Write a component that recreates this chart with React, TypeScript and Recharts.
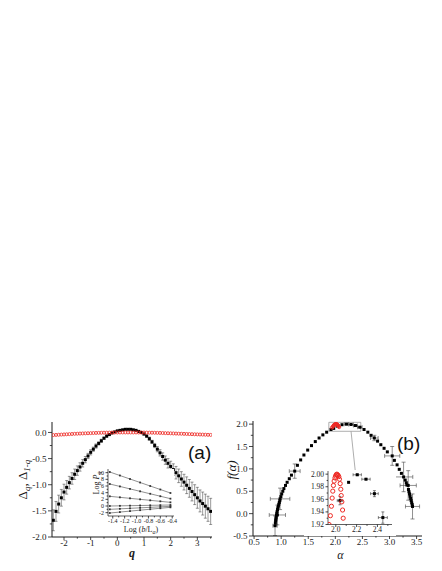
import React from "react";
import { ComposedChart, Scatter, XAxis, YAxis, ErrorBar, ReferenceArea, ReferenceLine } from "recharts";

const SERIF = '"Liberation Serif", "Times New Roman", serif';
const SANS = '"Liberation Sans", Arial, sans-serif';
const INK = "#1a1a1a";
const RED = "#ee2a24";

// ---- panel (a): Δq (black, with errors) and Δ1-q (red) vs q
const qValues = [-2.4, -2.3, -2.2, -2.1, -2.0, -1.9, -1.8, -1.7, -1.6, -1.5, -1.4, -1.3, -1.2, -1.1, -1.0, -0.9, -0.8, -0.7, -0.6, -0.5, -0.4, -0.3, -0.2, -0.1, 0.0, 0.1, 0.2, 0.3, 0.4, 0.5, 0.6, 0.7, 0.8, 0.9, 1.0, 1.1, 1.2, 1.3, 1.4, 1.5, 1.6, 1.7, 1.8, 1.9, 2.0, 2.1, 2.2, 2.3, 2.4, 2.5, 2.6, 2.7, 2.8, 2.9, 3.0, 3.1, 3.2, 3.3, 3.4, 3.5];
const deltaQ = [-1.68, -1.51, -1.37, -1.25, -1.14, -1.05, -0.96, -0.88, -0.8, -0.73, -0.66, -0.59, -0.52, -0.45, -0.38, -0.32, -0.26, -0.21, -0.16, -0.11, -0.07, -0.04, -0.01, 0.01, 0.03, 0.04, 0.05, 0.06, 0.06, 0.06, 0.05, 0.04, 0.02, 0.0, -0.03, -0.07, -0.12, -0.18, -0.25, -0.32, -0.39, -0.46, -0.53, -0.59, -0.65, -0.71, -0.77, -0.83, -0.89, -0.95, -1.01, -1.07, -1.13, -1.19, -1.25, -1.31, -1.36, -1.41, -1.46, -1.51];
const deltaQErr = [0.2, 0.19, 0.17, 0.16, 0.15, 0.13, 0.12, 0.11, 0.1, 0.09, 0.08, 0.07, 0.06, 0.05, 0.05, 0.04, 0.04, 0.03, 0.03, 0.02, 0.02, 0.02, 0.01, 0.01, 0.01, 0.01, 0.01, 0.01, 0.01, 0.01, 0.01, 0.01, 0.01, 0.01, 0.02, 0.02, 0.03, 0.03, 0.04, 0.05, 0.06, 0.07, 0.08, 0.09, 0.1, 0.11, 0.12, 0.13, 0.14, 0.15, 0.16, 0.17, 0.18, 0.19, 0.2, 0.21, 0.22, 0.23, 0.24, 0.25];
const deltaOneMinusQ = [-0.05, -0.047, -0.044, -0.041, -0.038, -0.035, -0.032, -0.029, -0.026, -0.024, -0.021, -0.019, -0.017, -0.015, -0.013, -0.011, -0.009, -0.008, -0.006, -0.005, -0.004, -0.003, -0.002, -0.001, -0.001, 0, 0, 0, 0, 0, 0, 0, -0.001, -0.001, -0.002, -0.003, -0.004, -0.005, -0.006, -0.008, -0.009, -0.011, -0.013, -0.015, -0.017, -0.019, -0.021, -0.023, -0.025, -0.027, -0.029, -0.031, -0.033, -0.035, -0.037, -0.039, -0.041, -0.043, -0.045, -0.047];

const qTicks = [-2, -1.5, -1, -0.5, 0, 0.5, 1, 1.5, 2, 2.5, 3, 3.5];
const qMajor = [-2, -1, 0, 1, 2, 3];
const deltaTicks = [-2, -1.75, -1.5, -1.25, -1, -0.75, -0.5, -0.25, 0];
const deltaMajor = [-2, -1.5, -1, -0.5, 0];

// inset (a): log P_q vs log(b/L_q), one fitted line per q
const logB = [-1.45, -1.28, -1.11, -0.94, -0.77, -0.6, -0.43];
const logP1 = [10.2, 9.15, 8.1, 7.05, 6.0, 4.95, 3.9];
const logP2 = [6.6, 5.87, 5.13, 4.4, 3.67, 2.93, 2.2];
const logP3 = [2.9, 2.6, 2.3, 2.0, 1.7, 1.4, 1.1];
const logP4 = [0.0, 0.05, 0.1, 0.15, 0.2, 0.25, 0.3];
const logP5 = [-1.0, -0.85, -0.7, -0.55, -0.4, -0.25, -0.1];
const logP6 = [-2.1, -1.82, -1.53, -1.25, -0.97, -0.68, -0.4];
const logBTicks = [-1.4, -1.3, -1.2, -1.1, -1.0, -0.9, -0.8, -0.7, -0.6, -0.5, -0.4];
const logBMajor = [-1.4, -1.2, -1.0, -0.8, -0.6, -0.4];
const logPTicks = [-2, -1, 0, 1, 2, 3, 4, 5, 6, 7, 8, 9, 10];
const logPMajor = [-2, 0, 2, 4, 6, 8, 10];

// ---- panel (b): f(alpha)
const alphaPts = [0.893, 0.898, 0.903, 0.908, 0.914, 0.92, 0.926, 0.933, 0.94, 0.948, 0.957, 0.966, 0.975, 0.995, 1.01, 1.03, 1.05, 1.08, 1.11, 1.15, 1.19, 1.3, 1.36, 1.42, 1.49, 1.56, 1.63, 1.7, 1.77, 1.84, 1.92, 1.97, 2.123, 2.53, 2.6, 2.66, 2.78, 2.84, 2.9, 2.96, 3.09, 3.14, 3.18, 3.22, 3.29, 3.31, 3.32, 3.35, 3.36, 3.37, 3.38, 3.39, 3.4, 3.41, 3.42];
const fPts = [-0.21, -0.16, -0.12, -0.08, -0.03, 0.01, 0.05, 0.09, 0.13, 0.17, 0.21, 0.25, 0.29, 0.38, 0.44, 0.5, 0.56, 0.63, 0.7, 0.78, 0.86, 1.08, 1.2, 1.31, 1.42, 1.52, 1.61, 1.69, 1.76, 1.82, 1.88, 1.905, 1.987, 1.88, 1.82, 1.75, 1.62, 1.54, 1.46, 1.38, 1.19, 1.09, 0.99, 0.9, 0.75, 0.69, 0.64, 0.54, 0.49, 0.44, 0.39, 0.34, 0.29, 0.24, 0.2];
const alphaErrPts = [0.887, 0.93, 0.98, 1.25, 2.04, 2.206, 2.29, 2.371, 2.452, 2.72, 3.05, 3.26, 3.345, 3.425];
const fErrPts = [-0.27, -0.03, 0.33, 0.95, 1.958, 1.999, 1.992, 1.969, 1.931, 1.69, 1.29, 0.82, 0.63, 0.16];
const alphaErr = [0.04, 0.15, 0.18, 0.1, 0.026, 0.04, 0.04, 0.037, 0.043, 0.07, 0.14, 0.17, 0.15, 0.13];
const fErr = [0.22, 0.22, 0.24, 0.16, 0.0067, 0.001, 0.001, 0.0048, 0.009, 0.06, 0.21, 0.33, 0.33, 0.28];
const alphaRed = [1.935, 1.948, 1.958, 1.965, 1.971, 1.977, 1.984, 1.992, 1.998, 2.004, 2.01, 2.016, 2.022, 2.029, 2.035, 2.042, 2.048, 2.052, 2.058, 2.065, 2.071];
const fRed = [1.92, 1.934, 1.949, 1.962, 1.973, 1.982, 1.989, 1.994, 1.997, 1.999, 2.0, 1.999, 1.998, 1.996, 1.992, 1.985, 1.976, 1.966, 1.956, 1.943, 1.93];

const alphaTicks = [0.5, 0.75, 1, 1.25, 1.5, 1.75, 2, 2.25, 2.5, 2.75, 3, 3.25, 3.5];
const alphaMajor = [0.5, 1, 1.5, 2, 2.5, 3, 3.5];
const fTicks = [-0.5, -0.25, 0, 0.25, 0.5, 0.75, 1, 1.25, 1.5, 1.75, 2];
const fMajor = [-0.5, 0, 0.5, 1, 1.5, 2];
const zoomBox = [1.88, 2.47, 1.84, 2.04];
const zoomLink = [2.29, 1.84, 2.37, 0.93];
const insetAlphaTicks = [2.0, 2.1, 2.2, 2.3, 2.4, 2.5];
const insetAlphaMajor = [2.0, 2.2, 2.4];
const insetFTicks = [1.92, 1.93, 1.94, 1.95, 1.96, 1.97, 1.98, 1.99, 2.0];
const insetFMajor = [1.92, 1.94, 1.96, 1.98, 2.0];

const deltaData = qValues.map((x, i) => ({ x, y: deltaQ[i], err: deltaQErr[i] }));
const delta1Data = qValues.map((x, i) => ({ x, y: deltaOneMinusQ[i] }));
const insetLines = [logP1, logP2, logP3, logP4, logP5, logP6].map((ys) => logB.map((x, i) => ({ x, y: ys[i] })));
const fData = alphaPts.map((x, i) => ({ x, y: fPts[i] }));
const fErrData = alphaErrPts.map((x, i) => ({ x, y: fErrPts[i], ex: alphaErr[i], ey: fErr[i] }));
const redData = alphaRed.map((x, i) => ({ x, y: fRed[i] }));

type Side = "bottom" | "top" | "left" | "right";

// custom ticks: major/minor tick marks, labels only on majors of bottom/left axes
const tickMaker = (side: Side, major: number[], fmt: ((v: number) => string) | null, size: number, len: number) =>
  (props: any) => {
    const { x, y, payload } = props;
    const v = Number(payload.value);
    const isMajor = major.some((m) => Math.abs(m - v) < 1e-6);
    const l = isMajor ? len : len * 0.55;
    let x2 = x;
    let y2 = y;
    if (side === "bottom" || side === "top") y2 = y + l;
    else x2 = x - l;
    let label = null;
    if (fmt && isMajor) {
      label =
        side === "bottom" ? (
          <text x={x} y={y + len + size * 0.72} textAnchor="middle" fontSize={size} fontFamily={SERIF} fill={INK}>
            {fmt(v)}
          </text>
        ) : (
          <text x={x - len - 1.5} y={y + size * 0.34} textAnchor="end" fontSize={size} fontFamily={SERIF} fill={INK}>
            {fmt(v)}
          </text>
        );
    }
    return (
      <g>
        <line x1={x} y1={y} x2={x2} y2={y2} stroke={INK} strokeWidth={0.8} />
        {label}
      </g>
    );
  };

const axisLine = { stroke: INK, strokeWidth: 1 };

const Square = (p: any) => <rect x={p.cx - 1.5} y={p.cy - 1.5} width={3} height={3} fill="#000" />;
const SmallSquare = (p: any) => <rect x={p.cx - 0.9} y={p.cy - 0.9} width={1.8} height={1.8} fill="#333" />;
const RedCircle = (p: any) => <circle cx={p.cx} cy={p.cy} r={1.5} fill="none" stroke={RED} strokeWidth={0.8} />;
const RedCircleBig = (p: any) => <circle cx={p.cx} cy={p.cy} r={2.1} fill="none" stroke={RED} strokeWidth={1} />;

const fmt1 = (v: number) => v.toFixed(1);
const fmt0 = (v: number) => String(Math.round(v));
const fmt2 = (v: number) => v.toFixed(2);

function frameAxes(xDom: number[], yDom: number[], xT: number[], xM: number[], yT: number[], yM: number[], len: number) {
  return [
    <XAxis key="t" xAxisId="t" orientation="top" type="number" dataKey="x" domain={xDom} allowDataOverflow ticks={xT} interval={0} height={0} mirror tickSize={0} tickMargin={0} tickLine={false} axisLine={axisLine} tick={tickMaker("top", xM, null, 8, len)} />,
    <YAxis key="r" yAxisId="r" orientation="right" type="number" dataKey="y" domain={yDom} allowDataOverflow ticks={yT} interval={0} width={0} mirror tickSize={0} tickMargin={0} tickLine={false} axisLine={axisLine} tick={tickMaker("right", yM, null, 8, len)} />,
  ];
}

export default function App() {
  return (
    <div style={{ position: "absolute", left: 0, top: 0, width: 442, height: 571, background: "#fff" }}>
      {/* panel (a) */}
      <div style={{ position: "absolute", left: 0, top: 370 }}>
        <ComposedChart width={221} height={190} margin={{ top: 52, right: 9, bottom: 0, left: 0 }}>
          <XAxis xAxisId="b" type="number" dataKey="x" domain={[-2.45, 3.55]} allowDataOverflow ticks={qTicks} interval={0} height={23} tickSize={0} tickMargin={0} tickLine={false} axisLine={axisLine} tick={tickMaker("bottom", qMajor, fmt0, 9, 3)}
            label={(p: any) => (
              <text x={p.viewBox.x + p.viewBox.width / 2} y={p.viewBox.y + 20} textAnchor="middle" fontSize={12} fontWeight="bold" fontStyle="italic" fontFamily={SERIF} fill={INK}>q</text>
            )} />
          <YAxis yAxisId="l" type="number" dataKey="y" domain={[-2, 0.2]} allowDataOverflow ticks={deltaTicks} interval={0} width={52} tickSize={0} tickMargin={0} tickLine={false} axisLine={axisLine} tick={tickMaker("left", deltaMajor, fmt1, 9, 4)}
            label={(p: any) => {
              const cx = p.viewBox.x + 27;
              const cy = p.viewBox.y + p.viewBox.height / 2;
              return (
                <text transform={`rotate(-90 ${cx} ${cy})`} x={cx} y={cy} textAnchor="middle" fontSize={13} fontFamily={SERIF} fill={INK}>
                  Δ<tspan fontSize={9} fontStyle="italic" dy={3}>q</tspan><tspan dy={-3}>, Δ</tspan><tspan fontSize={9} fontStyle="italic" dy={3}>1-q</tspan>
                </text>
              );
            }} />
          {frameAxes([-2.45, 3.55], [-2, 0.2], qTicks, qMajor, deltaTicks, deltaMajor, 3)}
          <Scatter xAxisId="b" yAxisId="l" data={deltaData} shape={Square} isAnimationActive={false}>
            <ErrorBar dataKey="err" direction="y" width={1.5} stroke="#333" strokeWidth={0.5} />
          </Scatter>
          <Scatter xAxisId="b" yAxisId="l" data={delta1Data} shape={RedCircle} isAnimationActive={false} />
        </ComposedChart>
      </div>

      {/* inset of panel (a): white only behind its plot area */}
      <div style={{ position: "absolute", left: 88, top: 468 }}>
        <ComposedChart width={92} height={66} margin={{ top: 1, right: 6, bottom: 0, left: 0 }}>
          <XAxis xAxisId="b" type="number" dataKey="x" domain={[-1.48, -0.37]} allowDataOverflow ticks={logBTicks} interval={0} height={18} tickSize={0} tickMargin={0} tickLine={false} axisLine={{ stroke: INK, strokeWidth: 0.7 }} tick={tickMaker("bottom", logBMajor, fmt1, 6, 2.5)}
            label={(p: any) => (
              <text x={p.viewBox.x + p.viewBox.width / 2} y={p.viewBox.y + 15.5} textAnchor="middle" fontSize={8} fontFamily={SERIF} fill={INK}>
                Log (<tspan fontStyle="italic">b</tspan>/L<tspan fontSize={6} dy={2} fontStyle="italic">q</tspan><tspan dy={-2}>)</tspan>
              </text>
            )} />
          <YAxis yAxisId="l" type="number" dataKey="y" domain={[-3, 11.1]} allowDataOverflow ticks={logPTicks} interval={0} width={20} tickSize={0} tickMargin={0} tickLine={false} axisLine={{ stroke: INK, strokeWidth: 0.7 }} tick={tickMaker("left", logPMajor, fmt0, 6, 2.5)}
            label={(p: any) => {
              const cx = p.viewBox.x + 11;
              const cy = p.viewBox.y + 14;
              return (
                <text transform={`rotate(-90 ${cx} ${cy})`} x={cx} y={cy} textAnchor="middle" fontSize={8} fontFamily={SERIF} fill={INK}>
                  Log <tspan fontStyle="italic">P</tspan><tspan fontSize={6} dy={2} fontStyle="italic">q</tspan>
                </text>
              );
            }} />
          {frameAxes([-1.48, -0.37], [-3, 11.1], logBTicks, logBMajor, logPTicks, logPMajor, 2)}
          <ReferenceArea xAxisId="b" yAxisId="l" x1={-1.48} x2={-0.37} y1={-3} y2={11.1} fill="#fff" fillOpacity={1} stroke="none" />
          {insetLines.map((d, i) => (
            <Scatter key={i} xAxisId="b" yAxisId="l" data={d} shape={SmallSquare} line={{ stroke: "#444", strokeWidth: 0.6 }} isAnimationActive={false} />
          ))}
        </ComposedChart>
      </div>

      {/* panel (b) */}
      <div style={{ position: "absolute", left: 221, top: 370 }}>
        <ComposedChart width={221} height={196} margin={{ top: 51, right: 20, bottom: 0, left: 0 }}>
          <XAxis xAxisId="b" type="number" dataKey="x" domain={[0.48, 3.6]} allowDataOverflow ticks={alphaTicks} interval={0} height={30} tickSize={0} tickMargin={0} tickLine={false} axisLine={axisLine} tick={tickMaker("bottom", alphaMajor, fmt1, 9, 3)}
            label={(p: any) => (
              <text x={p.viewBox.x + p.viewBox.width / 2 + 3} y={p.viewBox.y + 23} textAnchor="middle" fontSize={12} fontStyle="italic" fontFamily={SERIF} fill={INK}>α</text>
            )} />
          <YAxis yAxisId="l" type="number" dataKey="y" domain={[-0.5, 2.07]} allowDataOverflow ticks={fTicks} interval={0} width={32} tickSize={0} tickMargin={0} tickLine={false} axisLine={axisLine} tick={tickMaker("left", fMajor, fmt1, 9, 4)}
            label={(p: any) => {
              const cx = p.viewBox.x + 15;
              const cy = p.viewBox.y + 49;
              return (
                <text transform={`rotate(-90 ${cx} ${cy})`} x={cx} y={cy} textAnchor="middle" fontSize={13} fontStyle="italic" fontFamily={SERIF} fill={INK}>f(α)</text>
              );
            }} />
          {frameAxes([0.48, 3.6], [-0.5, 2.07], alphaTicks, alphaMajor, fTicks, fMajor, 3)}
          <ReferenceArea xAxisId="b" yAxisId="l" x1={zoomBox[0]} x2={zoomBox[1]} y1={zoomBox[2]} y2={zoomBox[3]} fill="none" stroke="#999" strokeWidth={0.8} ifOverflow="visible" />
          <ReferenceLine xAxisId="b" yAxisId="l" segment={[{ x: zoomLink[0], y: zoomLink[1] }, { x: zoomLink[2], y: zoomLink[3] }]} stroke="#999" strokeWidth={0.8} ifOverflow="visible" />
          <Scatter xAxisId="b" yAxisId="l" data={fData} shape={Square} isAnimationActive={false} />
          <Scatter xAxisId="b" yAxisId="l" data={fErrData} shape={Square} isAnimationActive={false}>
            <ErrorBar dataKey="ey" direction="y" width={2} stroke="#444" strokeWidth={0.6} />
            <ErrorBar dataKey="ex" direction="x" width={2} stroke="#444" strokeWidth={0.6} />
          </Scatter>
          <Scatter xAxisId="b" yAxisId="l" data={redData} shape={RedCircle} isAnimationActive={false} />
        </ComposedChart>
      </div>

      {/* inset of panel (b) */}
      <div style={{ position: "absolute", left: 304, top: 470, background: "#fff" }}>
        <ComposedChart width={92} height={66} margin={{ top: 1, right: 4, bottom: 0, left: 0 }}>
          <XAxis xAxisId="b" type="number" dataKey="x" domain={[1.925, 2.54]} allowDataOverflow ticks={insetAlphaTicks} interval={0} height={11.5} tickSize={0} tickMargin={0} tickLine={false} axisLine={{ stroke: INK, strokeWidth: 0.7 }} tick={tickMaker("bottom", insetAlphaMajor, fmt1, 7.5, 2.5)} />
          <YAxis yAxisId="l" type="number" dataKey="y" domain={[1.92, 2.005]} allowDataOverflow ticks={insetFTicks} interval={0} width={24} tickSize={0} tickMargin={0} tickLine={false} axisLine={{ stroke: INK, strokeWidth: 0.7 }} tick={tickMaker("left", insetFMajor, fmt2, 7.5, 2.5)} />
          {frameAxes([1.925, 2.54], [1.92, 2.005], insetAlphaTicks, insetAlphaMajor, insetFTicks, insetFMajor, 2)}
          <Scatter xAxisId="b" yAxisId="l" data={fData} shape={Square} isAnimationActive={false} />
          <Scatter xAxisId="b" yAxisId="l" data={fErrData} shape={Square} isAnimationActive={false}>
            <ErrorBar dataKey="ey" direction="y" width={1.5} stroke="#333" strokeWidth={0.6} />
            <ErrorBar dataKey="ex" direction="x" width={1.5} stroke="#333" strokeWidth={0.6} />
          </Scatter>
          <Scatter xAxisId="b" yAxisId="l" data={redData} shape={RedCircleBig} isAnimationActive={false} />
        </ComposedChart>
      </div>

      <svg width={442} height={571} style={{ position: "absolute", left: 0, top: 0, pointerEvents: "none" }}>
        <text x={188} y={459} fontSize={19} fontFamily={SANS} fill="#111">(a)</text>
        <text x={397} y={450} fontSize={19} fontFamily={SANS} fill="#111">(b)</text>
      </svg>
    </div>
  );
}
